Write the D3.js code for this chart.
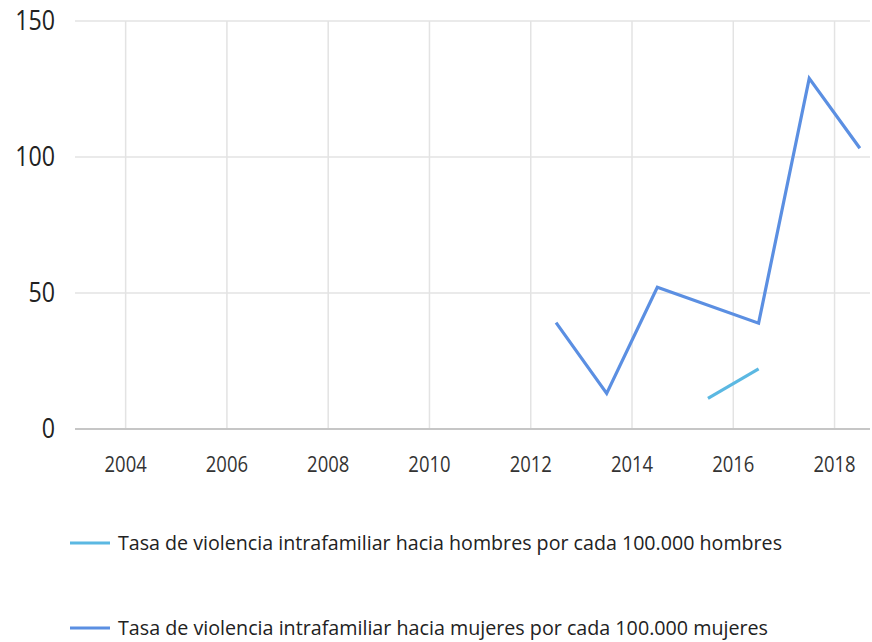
<!DOCTYPE html>
<html><head><meta charset="utf-8">
<script src="https://cdn.jsdelivr.net/npm/d3@7"></script>
<style>body{margin:0;background:#fff}svg{display:block}</style>
</head><body>
<svg id="c" width="872" height="642"></svg>
<script>
const yearTicks = [2004, 2006, 2008, 2010, 2012, 2014, 2016, 2018];
const valueTicks = [0, 50, 100, 150];
const womenYears = [2012.5, 2013.5, 2014.5, 2016.5, 2017.5, 2018.5];
const womenValues = [39.1, 13.1, 52.1, 38.9, 128.9, 103.2];
const menYears = [2015.5, 2016.5];
const menValues = [11.3, 22.1];
const seriesNames = [
  "Tasa de violencia intrafamiliar hacia hombres por cada 100.000 hombres",
  "Tasa de violencia intrafamiliar hacia mujeres por cada 100.000 mujeres"
];
const colors = ["#5bb8e2", "#5b8fe2"];

const svg = d3.select("#c");
const font = "'Open Sans', sans-serif";
const x = d3.scaleLinear().domain([2003, 2018.7]).range([75, 870]);
const y = d3.scaleLinear().domain([0, 150]).range([429, 21]);

// vertical grid
svg.append("g").selectAll("line").data(yearTicks).join("line")
  .attr("x1", d => x(d)).attr("x2", d => x(d))
  .attr("y1", y(150)).attr("y2", y(0))
  .attr("stroke", "#e3e3e3").attr("stroke-width", 1.5);
// horizontal grid
svg.append("g").selectAll("line").data(valueTicks).join("line")
  .attr("x1", 75).attr("x2", 870)
  .attr("y1", d => y(d)).attr("y2", d => y(d))
  .attr("stroke", d => d === 0 ? "#c6c6c6" : "#e3e3e3").attr("stroke-width", d => d === 0 ? 2 : 1.5);

// y labels
svg.append("g").selectAll("text").data(valueTicks).join("text")
  .attr("transform", d => `translate(55,${y(d) + 9}) scale(0.86,1)`)
  .attr("text-anchor", "end")
  .attr("font-family", font).attr("font-size", 27).attr("fill", "#222")
  .text(d => d);

// x labels
svg.append("g").selectAll("text").data(yearTicks).join("text")
  .attr("transform", d => `translate(${x(d)},472) scale(0.84,1)`)
  .attr("text-anchor", "middle")
  .attr("font-family", font).attr("font-size", 22).attr("fill", "#333")
  .text(d => d);

const line = d3.line().x(d => x(d[0])).y(d => y(d[1]));
const menData = menYears.map((d, i) => [d, menValues[i]]);
const womenData = womenYears.map((d, i) => [d, womenValues[i]]);
[menData, womenData].forEach((data, i) => {
  svg.append("path").datum(data).attr("d", line)
    .attr("fill", "none").attr("stroke", colors[i]).attr("stroke-width", 3.2)
    .attr("stroke-linejoin", "miter");
});

// legend
const legY = [543, 628];
const legLen = [664, 650];
seriesNames.forEach((name, i) => {
  svg.append("line").attr("x1", 70).attr("x2", 110).attr("y1", legY[i]).attr("y2", legY[i])
    .attr("stroke", colors[i]).attr("stroke-width", 3);
  svg.append("text").attr("x", 118).attr("y", legY[i] + 7)
    .attr("font-family", font).attr("font-size", 20).attr("fill", "#222")
    .attr("textLength", legLen[i]).attr("lengthAdjust", "spacingAndGlyphs")
    .text(name);
});
</script>
</body></html>
